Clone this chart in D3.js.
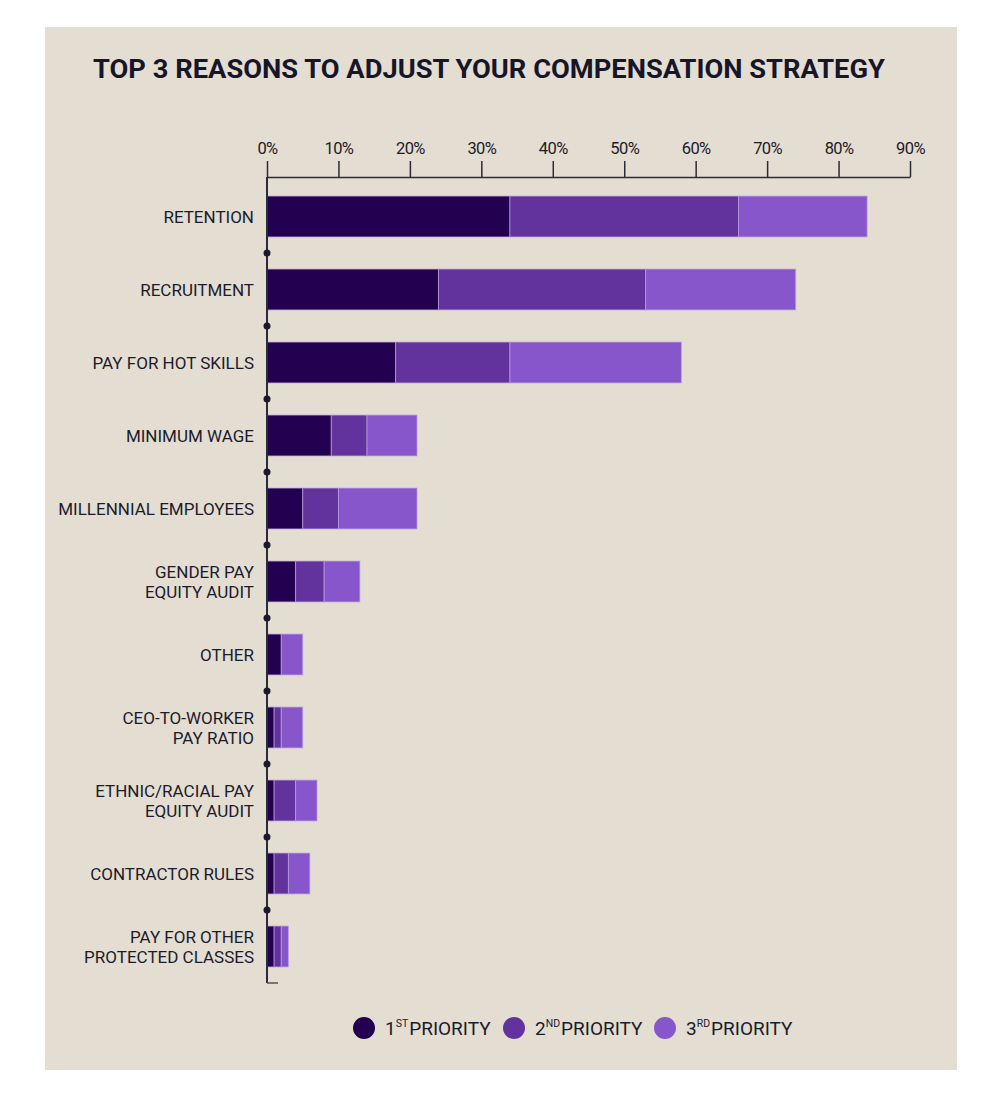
<!DOCTYPE html>
<html><head><meta charset="utf-8">
<script src="https://cdn.jsdelivr.net/npm/d3@7"></script>
<style>
body{margin:0;background:#fff;}
svg{display:block;font-family:Roboto,"Noto Sans",sans-serif;}
</style></head>
<body><svg id="c" width="1000" height="1100"></svg>
<script>
const categories = [
  ["RETENTION"],
  ["RECRUITMENT"],
  ["PAY FOR HOT SKILLS"],
  ["MINIMUM WAGE"],
  ["MILLENNIAL EMPLOYEES"],
  ["GENDER PAY","EQUITY AUDIT"],
  ["OTHER"],
  ["CEO-TO-WORKER","PAY RATIO"],
  ["ETHNIC/RACIAL PAY","EQUITY AUDIT"],
  ["CONTRACTOR RULES"],
  ["PAY FOR OTHER","PROTECTED CLASSES"]
];
const first  = [34, 24, 18, 9, 5, 4, 2, 1, 1, 1, 1];
const second = [32, 29, 16, 5, 5, 4, 0, 1, 3, 2, 1];
const third  = [18, 21, 24, 7, 11, 5, 3, 3, 3, 3, 1];
const ticks = [0,10,20,30,40,50,60,70,80,90];
const seriesNames = [["1","ST"],["2","ND"],["3","RD"]];
const colors = ["#230050","#62339d","#8856cb"];

const svg = d3.select("#c");
svg.append("rect").attr("x",45).attr("y",27).attr("width",912).attr("height",1043).attr("fill","#e3ded1");

svg.append("text").attr("x",93).attr("y",78).attr("font-size",25).attr("font-weight",700)
  .attr("fill","#16152a").attr("textLength",792).attr("lengthAdjust","spacingAndGlyphs")
  .text("TOP 3 REASONS TO ADJUST YOUR COMPENSATION STRATEGY");

const x = d3.scaleLinear().domain([0,90]).range([267,910]);
const y = d3.scaleBand().domain(d3.range(categories.length)).range([180,983]).paddingInner(0.44).paddingOuter(0.22);

const data = categories.map((c,i)=>({i, s:[first[i],second[i],third[i]]}));
const stack = d3.stack().keys([0,1,2]).value((d,k)=>d.s[k]);
const layers = stack(data);

// axis
const ax = svg.append("g").attr("transform","translate(0,177)")
  .call(d3.axisTop(x).tickValues(ticks).tickFormat(d=>d+"%").tickSize(16).tickSizeOuter(0));
ax.select(".domain").attr("stroke","#2b2b38").attr("stroke-width",1.5);
ax.selectAll(".tick line").attr("stroke","#2b2b38").attr("stroke-width",1.5);
ax.selectAll(".tick text").attr("font-size",16.5).attr("fill","#1c1b2c").attr("dy",-4)
  .attr("font-family","Roboto,sans-serif").style("letter-spacing","-0.6px");

layers.forEach((L,k)=>{
  svg.append("g").selectAll("rect").data(L).join("rect")
    .attr("x",d=>x(d[0])).attr("width",d=>x(d[1])-x(d[0]))
    .attr("y",d=>y(d.data.i)).attr("height",y.bandwidth())
    .attr("fill",colors[k]).attr("stroke","rgba(190,160,225,0.7)").attr("stroke-width",1)
    .filter(d=>d[1]-d[0]===0).remove();
});

// vertical axis line
svg.append("line").attr("x1",267).attr("x2",267).attr("y1",177).attr("y2",983).attr("stroke","#2b2b38").attr("stroke-width",2);
svg.append("line").attr("x1",267).attr("x2",278).attr("y1",983).attr("y2",983).attr("stroke","#555").attr("stroke-width",1.5);
// dots between rows
svg.append("g").selectAll("circle").data(d3.range(1,categories.length)).join("circle")
  .attr("cx",267).attr("cy",i=>(y(i-1)+y.bandwidth()+y(i))/2).attr("r",3.5).attr("fill","#1a1a2a");

// category labels
const lab = svg.append("g").selectAll("text").data(categories).join("text")
  .attr("x",254).attr("text-anchor","end").attr("font-size",17).attr("fill","#1c1b2c")
  .attr("y",(d,i)=>y(i)+y.bandwidth()/2 - (d.length-1)*10 + 6);
lab.each(function(d){
  d3.select(this).selectAll("tspan").data(d).join("tspan").attr("x",254).attr("dy",(t,j)=>j?20:0).text(t=>t);
});

// legend
const lx = [364,514,665];
const lg = svg.append("g");
seriesNames.forEach((s,k)=>{
  lg.append("circle").attr("cx",lx[k]).attr("cy",1028).attr("r",11).attr("fill",colors[k]);
  const t = lg.append("text").attr("x",lx[k]+21).attr("y",1035).attr("font-size",19).attr("fill","#1c1b2c");
  t.append("tspan").text(s[0]);
  t.append("tspan").attr("font-size",10.5).attr("dy",-8).text(s[1]);
  t.append("tspan").attr("dy",8).attr("dx",1).text("PRIORITY");
});
</script></body></html>
